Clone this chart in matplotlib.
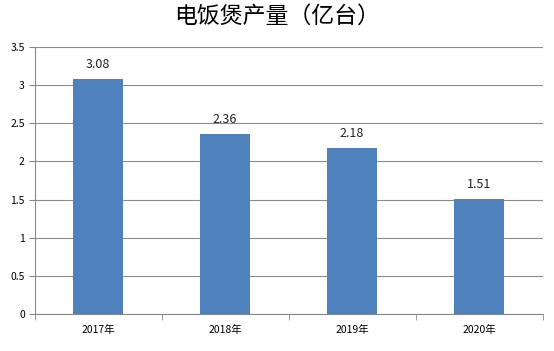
import matplotlib
matplotlib.use("Agg")
import matplotlib.pyplot as plt
import numpy as np

plt.rcParams['font.family'] = ['Noto Sans CJK SC', 'DejaVu Sans']

years = ["2017年", "2018年", "2019年", "2020年"]
output = [3.08, 2.36, 2.18, 1.51]
title = "电饭煲产量（亿台）"

fig = plt.figure(figsize=(5.54, 3.51), dpi=100)
ax = fig.add_axes([0.0623, 0.1054, 0.917, 0.7606])

x = np.arange(len(years))
bars = ax.bar(x, output, width=0.4, color="#4F81BD", zorder=2)
for xi, v in zip(x, output):
    ax.text(xi, v + 0.1, "%.2f" % v, ha="center", va="bottom", fontsize=9, color="#222222")

ax.set_xlim(-0.5, len(years) - 0.5)
ax.set_ylim(0, 3.5)
ax.set_yticks(np.arange(0, 3.51, 0.5))
ax.set_yticklabels(["0", "0.5", "1", "1.5", "2", "2.5", "3", "3.5"], fontsize=7.5)
ax.set_xticks(x)
ax.set_xticklabels(years, fontsize=7.5)
ax.tick_params(axis="x", length=0, pad=8)
ax.set_xticks(np.arange(-0.5, len(years), 1), minor=True)
ax.tick_params(axis="x", which="minor", length=4, color="#888888")
ax.tick_params(axis="y", length=4, color="#888888", pad=3)
ax.grid(axis="y", color="#8c8c8c", linewidth=0.8, zorder=0)
for s in ["top", "right"]:
    ax.spines[s].set_visible(False)
ax.spines["left"].set_color("#888888")
ax.spines["bottom"].set_color("#888888")

fig.text(0.5, 0.953, title, ha="center", va="center", fontsize=16.5, fontweight="medium")

fig.savefig("out.png", dpi=100)
